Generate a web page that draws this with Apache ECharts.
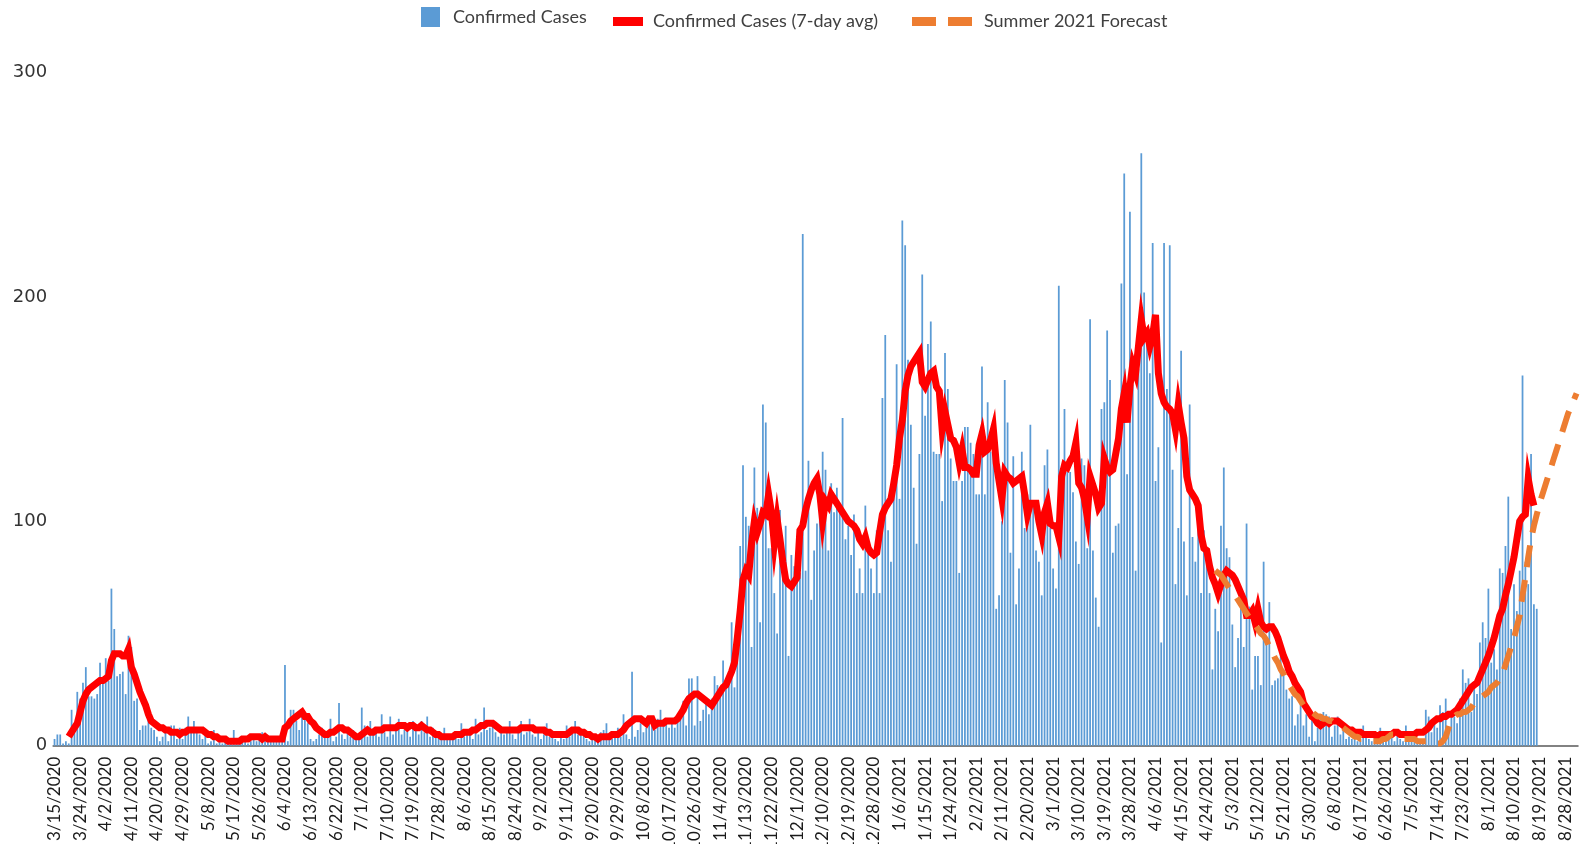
<!DOCTYPE html>
<html>
<head>
<meta charset="utf-8">
<script src="https://cdn.jsdelivr.net/npm/echarts@6/dist/echarts.min.js"></script>
<style>
  html, body { margin: 0; padding: 0; background: #ffffff; }
  #chart { width: 1580px; height: 844px; }
</style>
</head>
<body>
<div id="chart"></div>
<script>
// ---------------- DATA ----------------
const firstDay = { year: 2020, month: 3, day: 15 };   // first category (3/15/2020)
const categoryCount = 536;                             // axis runs to 9/1/2021
const labelEvery = 9;                                  // tick labels every 9 days

const seriesNames = ['Confirmed Cases', 'Confirmed Cases (7-day avg)', 'Summer 2021 Forecast'];

// Daily confirmed cases, 3/15/2020 .. 8/17/2021 (rows of 9 days, aligned with tick labels)
const confirmedCases = [
  3,5,5,1,2,1,16,6,24,
  21,28,35,22,22,21,23,37,30,
  39,29,70,52,31,32,33,23,49,
  44,20,21,7,9,9,12,8,7,
  4,2,4,8,2,9,9,3,8,
  3,8,13,7,11,7,5,3,7,
  1,2,7,1,2,1,3,1,2,
  7,2,1,2,3,1,2,4,2,
  3,6,2,3,4,2,3,3,2,
  36,2,16,16,11,7,15,13,10,
  3,2,3,5,8,6,4,12,2,
  4,19,5,3,6,4,7,3,5,
  17,9,4,11,5,8,4,14,6,
  4,13,5,8,12,5,7,8,4,
  11,8,5,11,6,13,4,8,5,
  4,3,8,4,3,5,6,3,10,
  4,5,6,3,12,5,6,17,7,
  8,11,6,4,8,5,6,11,5,
  3,7,11,5,6,12,5,4,8,
  3,5,10,4,6,3,2,5,3,
  9,4,6,11,5,7,6,3,2,
  3,4,2,6,7,10,4,3,6,
  8,4,14,5,3,33,4,7,10,
  6,8,11,9,7,12,16,9,12,
  8,11,8,13,13,20,9,30,30,
  9,31,11,16,21,14,21,31,27,
  23,38,26,30,55,26,52,89,125,
  102,98,44,124,106,55,152,144,88,
  88,68,50,105,79,98,40,85,80,
  79,77,228,78,127,65,87,99,106,
  131,123,87,117,104,115,104,146,92,
  98,85,103,68,79,68,107,87,79,
  68,96,68,155,183,96,82,120,170,
  110,234,223,172,143,115,90,130,210,
  147,179,189,131,130,130,109,175,159,
  128,118,118,77,118,142,142,135,130,
  112,112,169,112,153,131,145,61,67,
  100,163,144,86,129,63,79,131,97,
  112,143,109,87,82,67,125,132,97,
  79,70,205,119,150,122,122,113,91,
  81,128,125,88,190,87,66,53,150,
  153,185,163,86,98,99,206,255,121,
  238,161,78,168,264,202,180,166,224,
  118,133,46,224,159,223,123,72,97,
  176,91,67,152,93,82,97,68,96,
  87,68,34,61,51,98,124,88,84,
  54,35,48,67,44,99,62,25,40,
  40,27,82,46,64,27,29,30,42,
  34,25,21,22,9,14,22,9,14,
  4,15,2,8,12,15,14,13,4,
  9,13,5,9,3,4,3,4,2,
  3,9,4,3,2,6,3,8,2,
  4,3,4,2,5,3,2,9,3,
  4,2,3,3,2,16,13,6,11,
  8,18,15,21,8,14,13,10,21,
  34,28,30,15,28,23,46,55,48,
  70,37,43,34,79,77,89,111,52,
  72,60,78,165,82,72,130,63,61
];

// 7-day average, same days (starts on day 6)
const confirmedAvg7 = [
  null,null,null,null,null,4,6,8,10,
  15,20,23,25,26,27,28,29,29,
  30,31,38,41,41,41,40,40,43,
  35,32,28,24,21,18,14,11,10,
  9,8,8,7,7,6,6,6,5,
  6,6,7,7,7,7,7,7,6,
  5,5,4,4,3,3,3,2,2,
  2,2,2,3,3,3,4,4,4,
  4,3,4,3,3,3,3,3,3,
  8,9,11,12,13,14,15,13,13,
  11,10,8,7,6,5,5,6,6,
  7,8,8,7,7,6,5,4,4,
  5,6,7,6,6,7,7,7,8,
  8,8,8,8,9,9,9,8,9,
  9,8,8,9,8,7,7,6,5,
  5,4,4,4,4,4,5,5,5,
  6,6,6,7,7,8,9,9,10,
  10,10,9,8,7,7,7,7,7,
  7,7,8,8,8,8,8,7,7,
  7,7,6,6,5,5,5,5,5,
  5,6,7,7,7,6,6,5,5,
  4,4,3,4,4,4,4,5,5,
  5,6,7,9,10,11,12,12,12,
  11,10,12,12,9,10,10,10,11,
  11,11,11,12,14,16,19,21,22,
  23,23,22,21,20,19,18,20,22,
  24,26,27,30,33,37,48,60,74,
  78,76,90,100,95,99,104,103,112,
  104,90,101,92,82,74,72,71,73,
  75,96,98,105,110,114,117,119,112,
  100,109,107,112,110,108,106,104,102,
  100,99,98,96,92,90,93,88,86,
  85,86,95,103,106,108,110,117,125,
  137,145,158,165,169,171,173,175,162,
  160,163,166,167,160,158,141,149,143,
  137,136,133,126,132,124,124,123,121,
  121,134,139,131,132,136,141,126,118,
  110,122,120,119,117,118,119,120,112,
  103,108,108,108,100,94,104,108,99,
  98,98,93,120,125,124,127,129,135,
  117,115,110,102,120,116,112,106,108,
  128,124,122,123,130,137,150,157,144,
  160,170,166,178,190,182,184,178,183,
  192,166,157,153,151,150,148,141,152,
  144,137,120,114,112,110,107,94,88,
  87,80,75,72,68,72,76,78,77,
  76,74,71,68,65,58,58,60,55,
  61,55,53,52,53,53,51,48,44,
  40,37,33,31,28,26,24,19,17,
  15,13,12,10,9,10,11,10,11,
  11,11,10,9,8,7,7,6,6,
  6,5,5,5,5,5,4,5,5,
  5,5,5,6,6,5,5,5,5,
  5,5,6,6,6,7,8,10,11,
  12,12,13,13,14,14,15,16,18,
  20,22,24,26,27,28,31,34,37,
  40,44,48,53,58,61,67,72,78,
  84,92,100,102,103,119,112,107
];

// Summer 2021 forecast, starting 4/27/2021 (category index 408)
const forecastStartIndex = 408;
const forecastValues = [
  78,77,76,74,72,70,
  68,67,65,63,61,59,57,56,54,
  52,50,49,47,44,42,39,37,34,
  32,29,27,25,23,22,20,18,17,
  16,15,14,13,13,12,12,11,11,
  10,9,9,8,7,6,5,4,4,
  3,3,2,2,2,2,2,2,3,
  3,4,5,5,4,4,3,3,3,
  3,3,2,2,2,2,1,1,1,
  1,1,2,4,8,12,13,14,14,
  15,15,16,17,19,20,21,22,23,
  24,26,27,28,30,32,36,40,44,
  48,53,58,67,75,84,92,98,103,
  108,112,116,120,124,128,132,136,140,
  144,148,151,154,157
];

const yMin = 0, yMax = 300, yStep = 100;

// ---------------- BUILD ----------------
const categories = [];
for (let i = 0; i < categoryCount; i++) {
  const d = new Date(Date.UTC(firstDay.year, firstDay.month - 1, firstDay.day + i));
  categories.push((d.getUTCMonth() + 1) + '/' + d.getUTCDate() + '/' + d.getUTCFullYear());
}
const forecastData = categories.map((c, i) =>
  (i >= forecastStartIndex && i - forecastStartIndex < forecastValues.length) ? forecastValues[i - forecastStartIndex] : null);

const BLUE = '#5B9BD5', RED = '#FF0000', ORANGE = '#ED7D31';
const legendText = { fontFamily: 'Lato', fontSize: 18, color: '#404040' };

const chart = echarts.init(document.getElementById('chart'), null, { renderer: 'canvas' });
chart.setOption({
  animation: false,
  backgroundColor: '#ffffff',
  legend: [
    { data: [{ name: seriesNames[0], icon: 'rect' }], left: 421, top: 7, padding: 0,
      itemWidth: 19, itemHeight: 20, textStyle: Object.assign({ padding: [0, 0, 0, 8] }, legendText) },
    { data: [{ name: seriesNames[1], icon: 'rect' }], left: 613, top: 12.5, padding: 0,
      itemWidth: 30, itemHeight: 9, textStyle: Object.assign({ padding: [0, 0, 0, 5] }, legendText) },
    { data: [{ name: seriesNames[2], icon: 'path://M0,0h24v9h-24zM36,0h24v9h-24z' }], left: 912, top: 12.5, padding: 0,
      itemWidth: 60, itemHeight: 9, textStyle: Object.assign({ padding: [0, 0, 0, 7] }, legendText) }
  ],
  grid: { left: 53.1, right: 2, top: 72.5, bottom: 98.3, containLabel: false, outerBoundsMode: 'none' },
  xAxis: {
    type: 'category',
    data: categories,
    boundaryGap: true,
    axisLine: { show: true, lineStyle: { color: '#595959', width: 1.5 } },
    axisTick: { show: false },
    splitLine: { show: false },
    axisLabel: { interval: labelEvery - 1, rotate: 90, margin: 11,
      fontFamily: 'Lato', fontSize: 17, color: '#1a1a1a' }
  },
  yAxis: {
    type: 'value', min: yMin, max: yMax, interval: yStep,
    axisLine: { show: false }, axisTick: { show: false }, splitLine: { show: false },
    axisLabel: { margin: 6, fontFamily: 'DejaVu Sans', fontSize: 18, color: '#333333' }
  },
  series: [
    { name: seriesNames[0], type: 'bar', data: confirmedCases, barWidth: '62%',
      itemStyle: { color: BLUE }, z: 2 },
    { name: seriesNames[1], type: 'line', data: confirmedAvg7, symbol: 'none', showSymbol: false,
      connectNulls: false, color: RED, itemStyle: { color: RED },
      lineStyle: { color: RED, width: 7, join: 'miter' }, z: 3 },
    { name: seriesNames[2], type: 'line', data: forecastData, symbol: 'none', showSymbol: false,
      color: ORANGE, itemStyle: { color: ORANGE },
      lineStyle: { color: ORANGE, width: 6, type: [22, 13] }, z: 4 }
  ]
});
</script>
</body>
</html>
